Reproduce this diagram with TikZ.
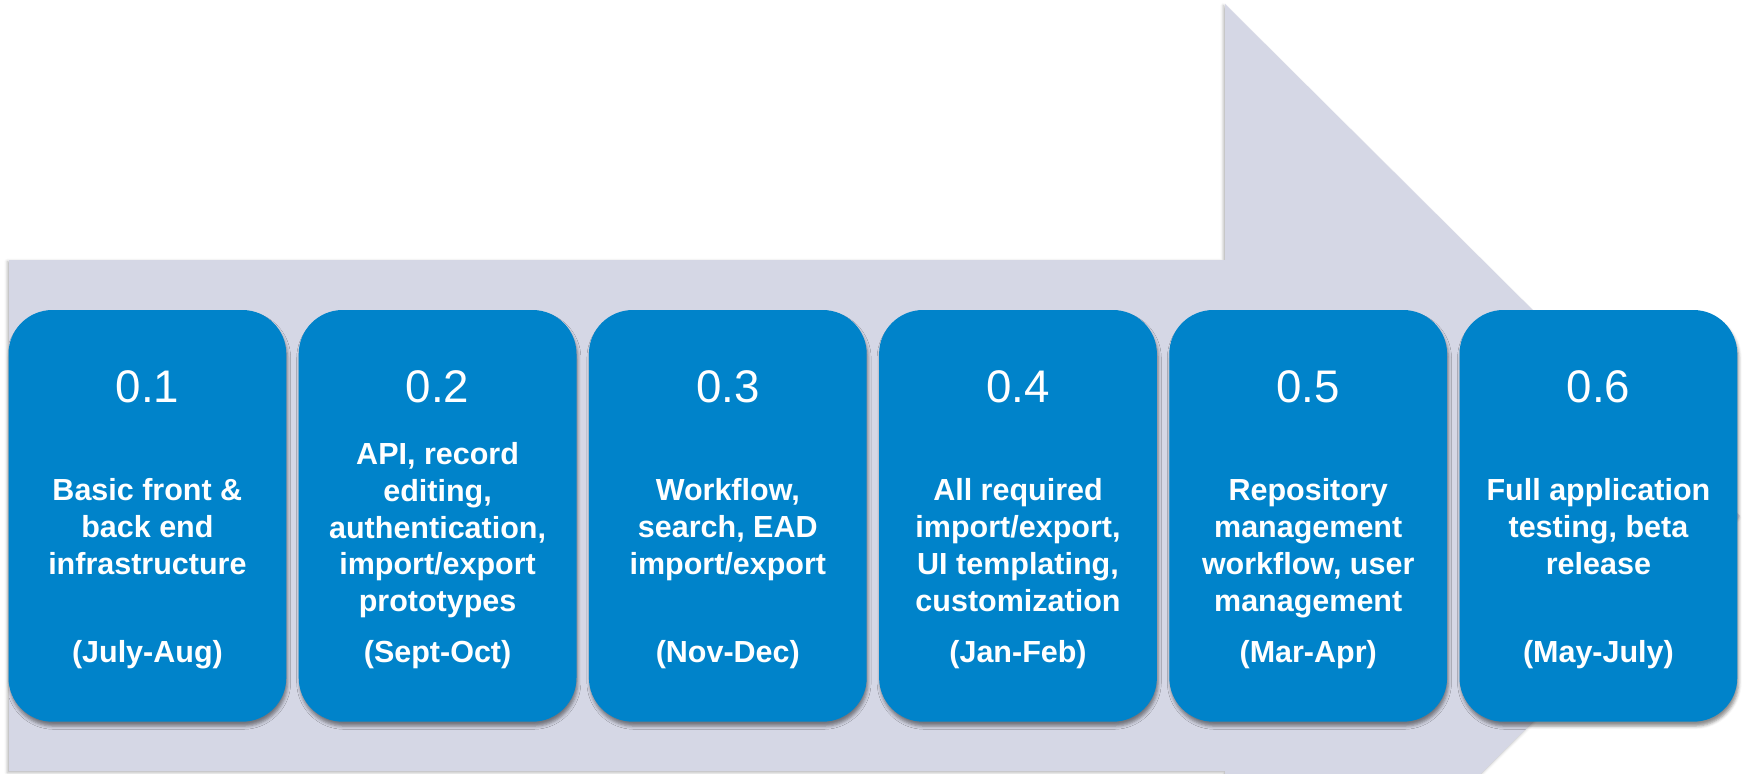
\documentclass[tikz,border=0pt]{standalone}
\usepackage{fontspec}
\setmainfont{Liberation Sans}
\usetikzlibrary{shadows.blur}

\definecolor{arrowgray}{RGB}{213,215,229}
\definecolor{boxblue}{RGB}{0,131,202}

\tikzset{
  release/.style={rectangle, rounded corners=22pt, fill=boxblue, inner sep=0pt,
    minimum width=138.9pt, minimum height=205.85pt,
    blur shadow={shadow xshift=0.6pt, shadow yshift=-2.2pt, shadow blur radius=1.6pt, shadow opacity=45}},
  version/.style={text=white, inner sep=0pt, font=\fontsize{22.85}{27}\selectfont},
  plan/.style={text=white, inner sep=0pt, align=center, font=\fontsize{15.25}{18.4}\selectfont\bfseries},
  months/.style={plan}
}

\begin{document}
\begin{tikzpicture}[x=0.5pt, y=0.5pt]
    \useasboundingbox (0,0) rectangle (1745,773);
    \def\boxpitch{290.2}

    \begin{scope}
        \clip (0,0) rectangle (1745,773);
        \fill[arrowgray, blur shadow={shadow xshift=-0.8pt, shadow yshift=-0.8pt, shadow blur radius=1.5pt, shadow opacity=30}]
            (9,2) -- (9,513) -- (1225,513) -- (1225,769) -- (1740,257) -- (1225,-255) -- (1225,2) -- cycle;
    \end{scope}

    \foreach \i/\num/\desc/\when/\drop in {
        1/0.1/{Basic front \&\\back end\\infrastructure}/July-Aug/84.4,
        2/0.2/{API, record\\editing,\\authentication,\\import/export\\prototypes}/Sept-Oct/66.2,
        3/0.3/{Workflow,\\search, EAD\\import/export}/Nov-Dec/84.4,
        4/0.4/{All required\\import/export,\\UI templating,\\customization}/Jan-Feb/84.4,
        5/0.5/{Repository\\management\\workflow, user\\management}/Mar-Apr/84.4,
        6/0.6/{Full application\\testing, beta\\release}/May-July/84.4}
    {
        \node[release] (v\i) at ({147.4+\boxpitch*(\i-1)},257.15) {};
        \node[version, anchor=base] (num\i) at ([yshift=-46.35pt]v\i.north) {\num};
        \node[plan, anchor=north] (desc\i) at ([yshift=-\drop pt]v\i.north) {\desc};
        \node[months, anchor=base] (date\i) at ([yshift=-176.35pt]v\i.north) {(\when)};
    }

\end{tikzpicture}
\end{document}
